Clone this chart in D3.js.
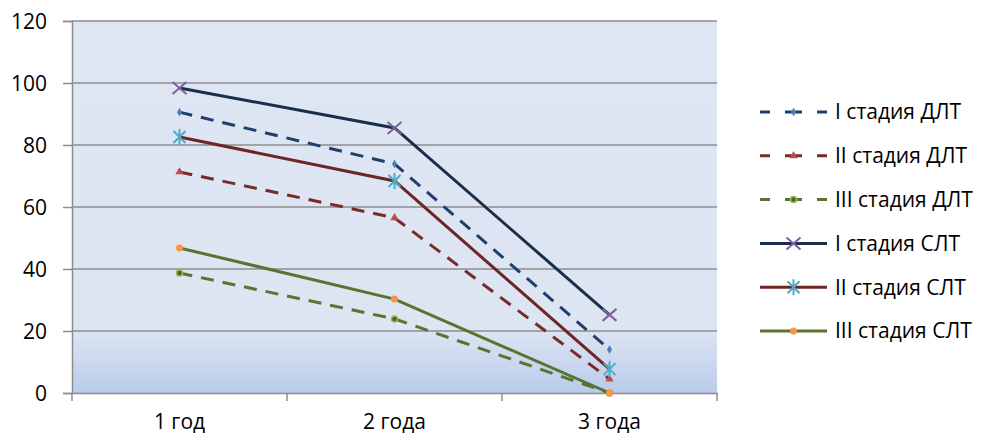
<!DOCTYPE html>
<html>
<head>
<meta charset="utf-8">
<script src="https://cdn.jsdelivr.net/npm/d3@7"></script>
<style>
  body { margin: 0; background: #fff; }
  text { font-family: "Open Sans", sans-serif; fill: #000; }
</style>
</head>
<body>
<div id="chart"></div>
<script>
// categories and series
const categories = ['1 год', '2 года', '3 года'];
const yTicks = [0, 20, 40, 60, 80, 100, 120];

const dlt1 = [90.6, 73.9, 14.0];
const dlt2 = [71.3, 56.5, 4.5];
const dlt3 = [38.7, 23.9, 0];
const slt1 = [98.4, 85.5, 25.2];
const slt2 = [82.6, 68.4, 7.7];
const slt3 = [46.8, 30.3, 0];

const seriesNames = ['I стадия ДЛТ', 'II стадия ДЛТ', 'III стадия ДЛТ',
    'I стадия СЛТ', 'II стадия СЛТ', 'III стадия СЛТ'];

const series = [
    { name: seriesNames[0], values: dlt1, color: '#1f3f6e', dashed: true, marker: 'diamond', mcolor: '#4a7ebb' },
    { name: seriesNames[1], values: dlt2, color: '#772c2a', dashed: true, marker: 'triangle', mcolor: '#be4b48' },
    { name: seriesNames[2], values: dlt3, color: '#5a7330', dashed: true, marker: 'circle', mcolor: '#98b954' },
    { name: seriesNames[3], values: slt1, color: '#1a2e4c', dashed: false, marker: 'x', mcolor: '#7d60a0' },
    { name: seriesNames[4], values: slt2, color: '#6e2525', dashed: false, marker: 'star', mcolor: '#4bacc6' },
    { name: seriesNames[5], values: slt3, color: '#5a7330', dashed: false, marker: 'dot', mcolor: '#f79646' }
];

const fontSize = '21px';
const width = 983, height = 436;
const margin = {top: 21, right: 266, bottom: 43, left: 72};
const w = width - margin.left - margin.right,
    h = height - margin.top - margin.bottom;

const svg = d3.select('#chart').append('svg')
    .attr('width', width)
    .attr('height', height);

const defs = svg.append('defs');
const grad = defs.append('linearGradient')
    .attr('id', 'bg')
    .attr('x1', 0).attr('y1', 0).attr('x2', 0).attr('y2', 1);
grad.append('stop').attr('offset', '0%').attr('stop-color', '#dee6f3');
grad.append('stop').attr('offset', '83%').attr('stop-color', '#dde5f3');
grad.append('stop').attr('offset', '100%').attr('stop-color', '#b9cbea');

const chart = svg.append('g')
    .attr('transform', `translate(${margin.left},${margin.top})`);

const xBand = d3.scaleBand().domain(categories).range([0, w]);
const x = d => xBand(d) + xBand.bandwidth() / 2;
const y = d3.scaleLinear().domain([0, 120]).range([h, 0]);

chart.append('rect')
    .attr('width', w)
    .attr('height', h)
    .attr('fill', 'url(#bg)');

// gridlines
chart.append('g')
    .selectAll('line')
    .data(yTicks.filter(t => t > 0))
    .join('line')
    .attr('x1', 0).attr('x2', w)
    .attr('y1', d => y(d)).attr('y2', d => y(d))
    .attr('stroke', '#8c8c8c')
    .attr('stroke-width', 1.5);

// y axis
const yAxisG = chart.append('g')
    .call(d3.axisLeft(y).tickValues(yTicks).tickSize(9).tickPadding(16));
yAxisG.select('.domain').attr('stroke', '#8c8c8c').attr('stroke-width', 1.5);
yAxisG.selectAll('.tick line').attr('stroke', '#8c8c8c').attr('stroke-width', 1.5);
yAxisG.selectAll('.tick text').style('font-size', fontSize).attr('dy', '0.35em');

// x axis
const xAxisG = chart.append('g')
    .attr('transform', `translate(0,${h})`)
    .call(d3.axisBottom(xBand).tickSize(0).tickPadding(21));
xAxisG.select('.domain').attr('stroke', '#8c8c8c').attr('stroke-width', 1.5);
xAxisG.selectAll('.tick text').style('font-size', fontSize);
xAxisG.selectAll('.sep')
    .data(d3.range(categories.length + 1))
    .join('line')
    .attr('x1', i => i * xBand.bandwidth())
    .attr('x2', i => i * xBand.bandwidth())
    .attr('y1', 0).attr('y2', 8)
    .attr('stroke', '#8c8c8c')
    .attr('stroke-width', 1.5);

const line = d3.line()
    .x((d, i) => x(categories[i]))
    .y(d => y(d));

function drawMarker(g, type, color) {
    if (type === 'diamond') {
        g.append('path').attr('d', d3.symbol(d3.symbolDiamond, 22)()).attr('fill', color);
    } else if (type === 'triangle') {
        g.append('path').attr('d', d3.symbol(d3.symbolTriangle, 30)()).attr('fill', color);
    } else if (type === 'circle') {
        g.append('circle').attr('r', 3).attr('fill', '#4f6228')
            .attr('stroke', color).attr('stroke-width', 1.5);
    } else if (type === 'x') {
        g.append('path').attr('d', 'M-7,-6L7,6M-7,6L7,-6')
            .attr('stroke', color).attr('stroke-width', 2).attr('fill', 'none');
    } else if (type === 'star') {
        g.append('path').attr('d', 'M-6,-6L6,6M-6,6L6,-6M0,-8L0,8')
            .attr('stroke', color).attr('stroke-width', 2).attr('fill', 'none');
    } else if (type === 'dot') {
        g.append('circle').attr('r', 3.5).attr('fill', color);
    }
}

series.forEach(s => {
    chart.append('path')
        .datum(s.values)
        .attr('d', line)
        .attr('fill', 'none')
        .attr('stroke', s.color)
        .attr('stroke-width', 3)
        .attr('stroke-dasharray', s.dashed ? '13,9' : null);

    s.values.forEach((v, i) => {
        const g = chart.append('g')
            .attr('transform', `translate(${x(categories[i])},${y(v)})`);
        drawMarker(g, s.marker, s.mcolor);
    });
});

// legend
const legend = svg.append('g').attr('transform', 'translate(760,112)');
series.forEach((s, i) => {
    const g = legend.append('g').attr('transform', `translate(0,${i * 43.8})`);
    g.append('line')
        .attr('x1', 0).attr('x2', 67)
        .attr('stroke', s.color)
        .attr('stroke-width', 3)
        .attr('stroke-dasharray', s.dashed ? '10,15,17,15,10' : null);
    const m = g.append('g').attr('transform', 'translate(33.5,0)');
    drawMarker(m, s.marker, s.mcolor);
    g.append('text')
        .attr('x', 75)
        .attr('dy', '0.35em')
        .style('font-size', fontSize)
        .text(s.name);
});
</script>
</body>
</html>
